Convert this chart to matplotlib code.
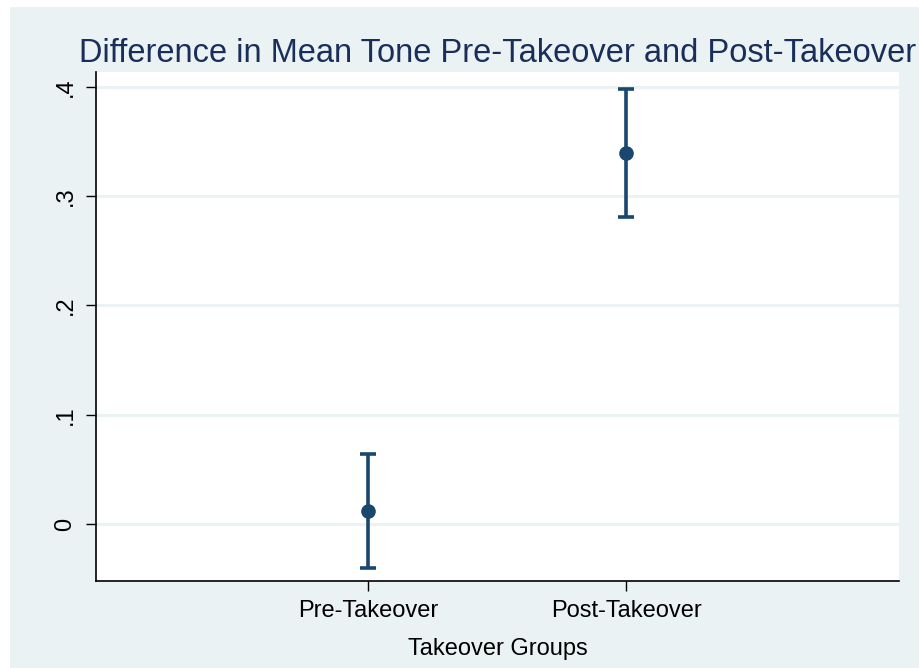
import matplotlib.pyplot as plt
from matplotlib.patches import Rectangle

groups = ["Pre-Takeover", "Post-Takeover"]
means = [0.012, 0.340]
lower = [-0.040, 0.281]
upper = [0.064, 0.398]
yticks = [0, 0.1, 0.2, 0.3, 0.4]
ytick_labels = ["0", ".1", ".2", ".3", ".4"]

plt.rcParams['font.family'] = ['Liberation Sans', 'DejaVu Sans']

bg = "#eaf2f3"
navy = "#1a476f"

fig = plt.figure(figsize=(9.2, 6.68), dpi=100)
fig.patch.set_facecolor("white")
fig.patches.append(Rectangle((10 / 920, 0), 1, 661 / 668, transform=fig.transFigure,
                             facecolor=bg, edgecolor="none", zorder=-10))

ax = fig.add_axes([96 / 920, 87 / 668, 803 / 920, 509 / 668])
ax.set_facecolor("white")

x = [1, 2]
yerr = [[m - l for m, l in zip(means, lower)], [u - m for m, u in zip(means, upper)]]
ax.errorbar(x, means, yerr=yerr, fmt="o", color=navy, ms=9.5, elinewidth=2.6,
            capsize=5.5, capthick=2.6, zorder=3)

ax.set_xlim(-0.054, 3.058)
ax.set_ylim(-0.0522, 0.4137)
ax.set_xticks(x)
ax.set_xticklabels(groups, fontsize=17)
ax.set_yticks(yticks)
ax.set_yticklabels(ytick_labels, fontsize=17, rotation=90, va="center")
ax.grid(axis="y", color=bg, linewidth=2.2)
ax.set_axisbelow(True)
ax.tick_params(length=7, width=1, pad=7)

for s in ["top", "right"]:
    ax.spines[s].set_visible(False)
for s in ["left", "bottom"]:
    ax.spines[s].set_linewidth(1.2)

ax.set_xlabel("Takeover Groups", fontsize=17, labelpad=11)
ax.set_title("Difference in Mean Tone Pre-Takeover and Post-Takeover", fontsize=23.5,
             color="#1a2e5a", pad=7)

fig.savefig("out.png", dpi=100)
